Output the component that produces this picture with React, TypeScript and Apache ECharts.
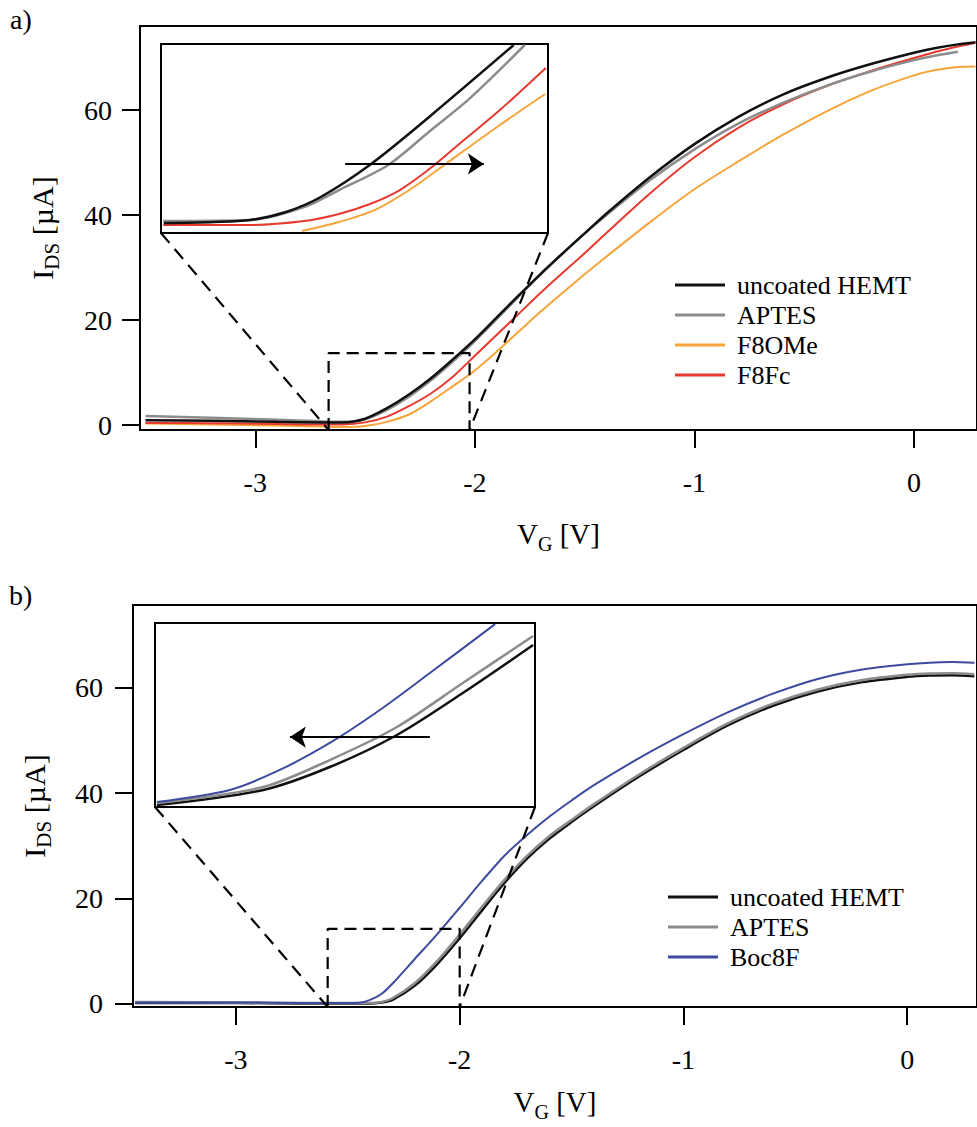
import React, { useEffect, useRef } from 'react';
import * as echarts from 'echarts';

// ---------- Panel a: main curves ----------
const VG_A = [-3.5, -3.2, -2.9, -2.7, -2.6, -2.5, -2.4, -2.3, -2.2, -2.1, -2.0, -1.9, -1.8, -1.7, -1.6, -1.5, -1.4, -1.2, -1.0, -0.8, -0.6, -0.4, -0.2, 0, 0.1, 0.2, 0.28];
const UNCOATED_A = [0.9, 0.8, 0.6, 0.5, 0.5, 1.2, 3.2, 5.8, 8.9, 12.5, 16.3, 20.5, 24.7, 28.8, 32.7, 36.5, 40.3, 47.3, 53.5, 58.7, 62.9, 66.1, 68.7, 70.9, 71.8, 72.5, 72.9];
const APTES_A = [1.7, 1.4, 1.0, 0.7, 0.6, 1.1, 2.9, 5.4, 8.5, 12.1, 16.0, 20.2, 24.5, 28.7, 32.7, 36.5, 40.0, 46.7, 52.5, 57.4, 61.3, 64.6, 67.3, 69.5, 70.4, 71.1];
const F8OME_A = [0.3, 0.1, -0.1, -0.3, -0.4, -0.2, 0.6, 2.0, 4.5, 7.4, 10.4, 14.0, 17.8, 21.6, 25.2, 28.7, 32.1, 38.7, 44.9, 50.2, 55.2, 59.7, 63.6, 66.6, 67.6, 68.2, 68.3];
const F8FC_A = [0.4, 0.35, 0.2, 0.1, 0.1, 0.5, 1.6, 3.6, 6.0, 9.2, 13.2, 17.2, 21.2, 25.2, 29.0, 32.7, 36.6, 44.2, 51.0, 56.6, 61.0, 64.5, 67.4, 69.9, 71.1, 72.1, 72.8];

// ---------- Panel a: inset curves [V, µA] ----------
const INSET_A_UNCOATED = [[-2.695, -0.21], [-2.604, -0.13], [-2.539, 0.03], [-2.474, 0.67], [-2.411, 1.86], [-2.32, 4.48], [-2.215, 8.21], [-2.062, 13.92]];
const INSET_A_APTES = [[-2.696, -0.05], [-2.539, 0.03], [-2.441, 1.06], [-2.378, 2.41], [-2.289, 4.4], [-2.2135, 7.1], [-2.141, 9.71], [-2.042, 13.92]];
const INSET_A_F8FC = [[-2.696, -0.37], [-2.539, -0.37], [-2.441, -0.05], [-2.378, 0.51], [-2.322, 1.3], [-2.268, 2.41], [-2.21, 4.24], [-2.152, 6.38], [-2.087, 8.76], [-2.004, 12.1]];
const INSET_A_F8OME = [[-2.445, -0.84], [-2.378, -0.13], [-2.313, 0.83], [-2.248, 2.49], [-2.185, 4.48], [-2.087, 7.57], [-2.005, 10.03]];
const ARROW_A = [[-2.367, 4.48], [-2.116, 4.48]];

// ---------- Panel b: main curves ----------
const VG_B = [-3.45, -3.0, -2.7, -2.5, -2.45, -2.4, -2.35, -2.3, -2.2, -2.1, -2.0, -1.9, -1.8, -1.7, -1.6, -1.5, -1.4, -1.2, -1.0, -0.8, -0.6, -0.4, -0.2, 0, 0.1, 0.2, 0.3];
const UNCOATED_B = [0.1, 0.1, 0.0, 0.0, 0.0, 0.0, 0.2, 0.7, 3.4, 7.5, 12.4, 17.7, 22.9, 27.5, 31.3, 34.5, 37.5, 43.1, 48.2, 52.9, 56.6, 59.3, 61.1, 62.1, 62.35, 62.4, 62.2];
const APTES_B = [0.3, 0.2, 0.1, 0.1, 0.1, 0.1, 0.3, 1.0, 3.9, 8.1, 13.1, 18.4, 23.5, 28.0, 31.8, 34.9, 37.9, 43.5, 48.6, 53.3, 57.0, 59.7, 61.5, 62.5, 62.75, 62.8, 62.6];
const BOC8F_B = [0.2, 0.2, 0.1, 0.1, 0.15, 0.7, 1.8, 3.8, 8.5, 13.2, 18.2, 23.3, 28.1, 32.0, 35.5, 38.6, 41.5, 46.6, 51.2, 55.4, 58.9, 61.7, 63.5, 64.5, 64.8, 64.9, 64.8];

// ---------- Panel b: inset curves [V, µA] ----------
const INSET_B_BOC8F = [[-2.597, 0.41], [-2.482, 1.39], [-2.403, 3.02], [-2.324, 5.22], [-2.245, 7.91], [-2.166, 10.92], [-2.063, 14.91]];
const INSET_B_APTES = [[-2.597, 0.33], [-2.429, 1.63], [-2.324, 3.83], [-2.218, 6.52], [-2.114, 10.11], [-2.003, 13.94]];
const INSET_B_UNCOATED = [[-2.597, 0.16], [-2.429, 1.39], [-2.324, 3.26], [-2.218, 5.87], [-2.114, 9.29], [-2.003, 13.2]];
const ARROW_B = [[-2.166, 5.7], [-2.387, 5.7]];

// ---------- zoom boxes (main-axis units) ----------
const BOX_A = [[-2.666, -0.95], [-2.666, 13.7], [-2.024, 13.7], [-2.024, -0.95]];
const BOX_B = [[-2.59, -0.665], [-2.59, 14.2], [-2.0, 14.2], [-2.0, -0.665]];

// ---------- ticks / legends ----------
const X_TICKS = [-3, -2, -1, 0];
const Y_TICKS = [0, 20, 40, 60];
const LEGEND_A = ['uncoated HEMT', 'APTES', 'F8OMe', 'F8Fc'];
const LEGEND_B = ['uncoated HEMT', 'APTES', 'Boc8F'];

// axis ranges
const XA = [-3.525, 0.287];
const YA = [-0.95, 76.0];
const XA_IN = [-2.7, -2.0];
const YA_IN = [-1, 14];
const XB = [-3.46, 0.312];
const YB = [-0.665, 75.76];
const XB_IN = [-2.6, -2.0];
const YB_IN = [0, 15];

const FONT = "'Liberation Serif', 'Times New Roman', serif";
const C_BLACK = '#111111';
const C_GRAY = '#8c8c8c';
const C_ORANGE = '#f7a43a';
const C_RED = '#e63a2e';
const C_BLUE = '#3d4a9e';

const pairs = (xs: number[], ys: number[]) => ys.map((y, i) => [xs[i], y]);

const lineSeries = (name: string, data: number[][], color: string, width: number, axis: number) => ({
  type: 'line',
  name,
  xAxisIndex: axis,
  yAxisIndex: axis,
  data,
  symbol: 'none',
  showSymbol: false,
  smooth: 0.3,
  clip: true,
  silent: true,
  color,
  itemStyle: { color },
  lineStyle: { color, width },
});

const mainX = (grid: number, range: number[], nameGap: number) => ({
  type: 'value',
  gridIndex: grid,
  min: range[0],
  max: range[1],
  axisLine: { show: true, onZero: false, lineStyle: { color: '#000', width: 2 } },
  axisTick: { show: true, inside: false, length: 18, lineStyle: { color: '#000', width: 2 }, customValues: X_TICKS },
  axisLabel: { customValues: X_TICKS, fontSize: 28, fontFamily: FONT, color: '#000', margin: 38 },
  splitLine: { show: false },
  name: '{m|V}{s|G}{m| [V]}',
  nameLocation: 'middle',
  nameGap,
  nameTextStyle: {
    rich: {
      m: { fontSize: 29, fontFamily: FONT, color: '#000', lineHeight: 40 },
      s: { fontSize: 20, fontFamily: FONT, color: '#000', lineHeight: 20, verticalAlign: 'bottom' },
    },
  },
});

const mainY = (grid: number, range: number[], labelMargin: number, nameGap: number) => ({
  type: 'value',
  gridIndex: grid,
  min: range[0],
  max: range[1],
  axisLine: { show: true, onZero: false, lineStyle: { color: '#000', width: 2 } },
  axisTick: { show: true, inside: false, length: 18, lineStyle: { color: '#000', width: 2 }, customValues: Y_TICKS },
  axisLabel: { customValues: Y_TICKS, fontSize: 28, fontFamily: FONT, color: '#000', margin: labelMargin },
  splitLine: { show: false },
  name: '{m|I}{s|DS}{m| [µA]}',
  nameLocation: 'middle',
  nameGap,
  nameTextStyle: {
    rich: {
      m: { fontSize: 30, fontFamily: FONT, color: '#000', lineHeight: 40 },
      s: { fontSize: 21, fontFamily: FONT, color: '#000', lineHeight: 20, verticalAlign: 'bottom' },
    },
  },
});

const hiddenAxis = (grid: number, range: number[]) => ({
  type: 'value',
  gridIndex: grid,
  min: range[0],
  max: range[1],
  show: false,
  splitLine: { show: false },
});

const legend = (data: string[], left: number, top: number) => ({
  data,
  left,
  top,
  orient: 'vertical',
  icon: 'rect',
  itemWidth: 50,
  itemHeight: 3,
  itemGap: 4,
  padding: 0,
  selectedMode: false,
  textStyle: { fontSize: 26, fontFamily: FONT, color: '#000', lineHeight: 26, padding: [0, 0, 0, 7] },
});

const boxSeries = (data: number[][], axis: number) => ({
  type: 'line',
  xAxisIndex: axis,
  yAxisIndex: axis,
  data: [...data, data[0]],
  symbol: 'none',
  clip: false,
  silent: true,
  z: 5,
  lineStyle: { color: '#000', width: 2.2, type: [12, 7] },
});

const arrowSeries = (coords: number[][], axis: number) => ({
  type: 'lines',
  coordinateSystem: 'cartesian2d',
  xAxisIndex: axis,
  yAxisIndex: axis,
  data: [{ coords }],
  symbol: ['none', 'arrow'],
  symbolSize: 16,
  silent: true,
  z: 6,
  lineStyle: { color: '#000', width: 2, opacity: 1, curveness: 0 },
});

export default function App() {
  const ref = useRef<HTMLDivElement>(null);

  useEffect(() => {
    if (!ref.current) return;
    const chart = echarts.init(ref.current, null, { renderer: 'svg' });
    const option: any = {
      animation: false,
      backgroundColor: '#ffffff',
      grid: [
        { left: 140, top: 26, width: 838, height: 404, show: true, borderColor: '#000', borderWidth: 2, backgroundColor: 'transparent' },
        { left: 161, top: 44, width: 387, height: 189, show: true, borderColor: '#000', borderWidth: 2, backgroundColor: '#fff' },
        { left: 133, top: 605, width: 845, height: 402, show: true, borderColor: '#000', borderWidth: 2, backgroundColor: 'transparent' },
        { left: 155, top: 623, width: 380, height: 184, show: true, borderColor: '#000', borderWidth: 2, backgroundColor: '#fff' },
      ],
      xAxis: [mainX(0, XA, 84), hiddenAxis(1, XA_IN), mainX(2, XB, 75), hiddenAxis(3, XB_IN)],
      yAxis: [mainY(0, YA, 28, 78), hiddenAxis(1, YA_IN), mainY(2, YB, 30, 79), hiddenAxis(3, YB_IN)],
      legend: [legend(LEGEND_A, 675, 272), legend(LEGEND_B, 668, 884)],
      series: [
        // panel a main
        lineSeries('F8OMe', pairs(VG_A, F8OME_A), C_ORANGE, 2, 0),
        lineSeries('F8Fc', pairs(VG_A, F8FC_A), C_RED, 2, 0),
        lineSeries('APTES', pairs(VG_A, APTES_A), C_GRAY, 2.5, 0),
        lineSeries('uncoated HEMT', pairs(VG_A, UNCOATED_A), C_BLACK, 2.5, 0),
        boxSeries(BOX_A, 0),
        // panel a inset
        lineSeries('inset F8OMe', INSET_A_F8OME, C_ORANGE, 2, 1),
        lineSeries('inset F8Fc', INSET_A_F8FC, C_RED, 2, 1),
        lineSeries('inset APTES a', INSET_A_APTES, C_GRAY, 2.5, 1),
        lineSeries('inset uncoated a', INSET_A_UNCOATED, C_BLACK, 2.5, 1),
        arrowSeries(ARROW_A, 1),
        // panel b main
        lineSeries('uncoated HEMT', pairs(VG_B, UNCOATED_B), C_BLACK, 2.5, 2),
        lineSeries('APTES', pairs(VG_B, APTES_B), C_GRAY, 2.5, 2),
        lineSeries('Boc8F', pairs(VG_B, BOC8F_B), C_BLUE, 2, 2),
        boxSeries(BOX_B, 2),
        // panel b inset
        lineSeries('inset uncoated b', INSET_B_UNCOATED, C_BLACK, 2.5, 3),
        lineSeries('inset APTES b', INSET_B_APTES, C_GRAY, 2.5, 3),
        lineSeries('inset Boc8F', INSET_B_BOC8F, C_BLUE, 2, 3),
        arrowSeries(ARROW_B, 3),
      ],
      graphic: [
        { type: 'text', left: 10, top: 5, style: { text: 'a)', font: `28px ${FONT}`, fill: '#000' } },
        { type: 'text', left: 9, top: 581, style: { text: 'b)', font: `28px ${FONT}`, fill: '#000' } },
      ],
    };
    chart.setOption(option);

    const px = (axis: number, pt: number[]) =>
      chart.convertToPixel({ xAxisIndex: axis, yAxisIndex: axis } as any, pt) as number[];
    const dash = (a: number[], b: number[]) => ({
      type: 'line',
      silent: true,
      z: 10,
      shape: { x1: a[0], y1: a[1], x2: b[0], y2: b[1] },
      style: { stroke: '#000', lineWidth: 2.2, lineDash: [13, 8] },
    });
    const aInL = px(1, [XA_IN[0], YA_IN[0]]);
    const aInR = px(1, [XA_IN[1], YA_IN[0]]);
    const aBoxL = px(0, BOX_A[0]);
    const aBoxR = px(0, BOX_A[3]);
    const bInL = px(3, [XB_IN[0], YB_IN[0]]);
    const bInR = px(3, [XB_IN[1], YB_IN[0]]);
    const bBoxL = px(2, BOX_B[0]);
    const bBoxR = px(2, BOX_B[3]);
    chart.setOption({
      graphic: [
        option.graphic[0],
        option.graphic[1],
        dash(aInL, aBoxL),
        dash(aInR, aBoxR),
        dash(bInL, bBoxL),
        dash(bInR, bBoxR),
      ],
    });

    return () => chart.dispose();
  }, []);

  return <div ref={ref} style={{ position: 'absolute', left: 0, top: 0, width: 977, height: 1127 }} />;
}
